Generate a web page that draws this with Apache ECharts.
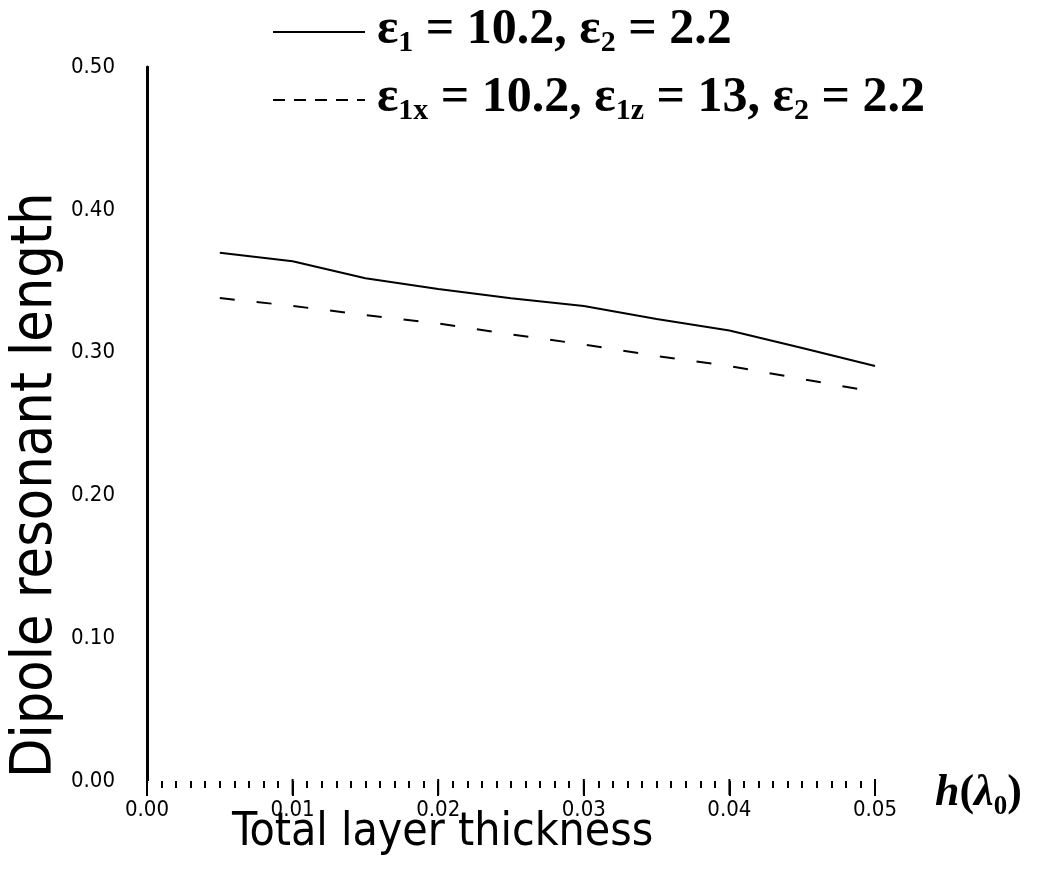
<!DOCTYPE html>
<html>
<head>
<meta charset="utf-8">
<script src="https://cdn.jsdelivr.net/npm/echarts@6/dist/echarts.min.js"></script>
<style>
html,body{margin:0;padding:0;background:#fff;}
#chart{width:1039px;height:873px;}
</style>
</head>
<body>
<div id="chart"></div>
<script>
// ---- data ----
const thickness = [0.005, 0.010, 0.015, 0.020, 0.025, 0.030, 0.035, 0.040, 0.045, 0.050];
const isotropic = [0.370, 0.364, 0.352, 0.3445, 0.338, 0.3326, 0.3235, 0.3155, 0.3032, 0.2906];
const anisotropic = [0.3382, 0.3327, 0.3263, 0.3204, 0.3127, 0.3057, 0.2976, 0.2906, 0.2815, 0.2724];
const majorTicks = [0, 0.01, 0.02, 0.03, 0.04, 0.05];
const seriesNames = ['iso', 'aniso'];
const xTitle = 'Total layer thickness';
const yTitle = 'Dipole resonant length';
const legendText = [
  '{e|ε}{s|1}{e| = 10.2, ε}{s|2}{e| = 2.2}',
  '{e|ε}{s|1x}{e| = 10.2, ε}{s|1z}{e| = 13, ε}{s|2}{e| = 2.2}'
];

const chart = echarts.init(document.getElementById('chart'), null, {renderer: 'canvas'});
const serif = '"Liberation Serif", "DejaVu Serif", serif';
const lightSans = '"DejaVu Sans Condensed", "Liberation Sans Narrow", "DejaVu Sans", sans-serif';

const richLegend = {
  e: {fontFamily: serif, fontSize: 50, fontWeight: 'bold', fill: '#000', lineHeight: 56, verticalAlign: 'middle'},
  s: {fontFamily: serif, fontSize: 30, fontWeight: 'bold', fill: '#000', lineHeight: 56, verticalAlign: 'bottom', padding: [26, 0, 0, 0]}
};

const option = {
  backgroundColor: '#ffffff',
  animation: false,
  grid: {left: 147, right: 164, top: 67, bottom: 92, containLabel: false},
  xAxis: {
    type: 'value',
    min: 0,
    max: 0.05,
    interval: 0.01,
    axisLine: {show: true, lineStyle: {color: '#ffffff', width: 1}},
    axisTick: {show: true, length: 15, lineStyle: {color: '#000', width: 2}},
    minorTick: {show: true, splitNumber: 10, length: 7, lineStyle: {color: '#000', width: 2}},
    splitLine: {show: false},
    minorSplitLine: {show: false},
    axisLabel: {
      color: '#000', fontSize: 22, fontFamily: lightSans, margin: 18,
      formatter: v => v.toFixed(2)
    }
  },
  yAxis: {
    type: 'value',
    min: 0,
    max: 0.5,
    interval: 0.1,
    axisLine: {show: true, lineStyle: {color: '#000', width: 3}},
    axisTick: {show: false},
    splitLine: {show: false},
    axisLabel: {
      color: '#000', fontSize: 22, fontFamily: lightSans, margin: 32,
      formatter: v => v.toFixed(2)
    }
  },
  series: [
    {
      name: seriesNames[0],
      type: 'line',
      symbol: 'none',
      lineStyle: {color: '#000', width: 2, type: 'solid'},
      data: thickness.map((x, i) => [x, isotropic[i]])
    },
    {
      name: seriesNames[1],
      type: 'line',
      symbol: 'none',
      lineStyle: {color: '#000', width: 2, type: [15, 22]},
      data: thickness.map((x, i) => [x, anisotropic[i]])
    }
  ],
  graphic: [
    // legend samples
    {type: 'line', shape: {x1: 273, y1: 32, x2: 365, y2: 32}, style: {stroke: '#000', lineWidth: 2}},
    {type: 'line', shape: {x1: 273, y1: 100, x2: 365, y2: 100}, style: {stroke: '#000', lineWidth: 2, lineDash: [12, 9]}},
    {type: 'text', x: 377, y: 30, style: {text: legendText[0], rich: richLegend, verticalAlign: 'middle'}},
    {type: 'text', x: 377, y: 98, style: {text: legendText[1], rich: richLegend, verticalAlign: 'middle'}},
    // axis titles
    {
      type: 'text',
      left: 232,
      top: 810,
      style: {text: xTitle, fill: '#000', font: '200 46px ' + lightSans}
    },
    {
      type: 'text',
      x: 8,
      y: 778,
      rotation: Math.PI / 2,
      style: {text: yTitle, fill: '#000', font: '200 57px ' + lightSans, verticalAlign: 'top'}
    },
    {
      type: 'text',
      left: 935,
      top: 772,
      style: {
        text: '{i|h}{p|(}{i|λ}{s|0}{p|)}',
        rich: {
          i: {fontFamily: serif, fontSize: 44, fontStyle: 'italic', fontWeight: 'bold', fill: '#000', lineHeight: 54},
          p: {fontFamily: serif, fontSize: 44, fontWeight: 'bold', fill: '#000', lineHeight: 54},
          s: {fontFamily: serif, fontSize: 27, fontWeight: 'bold', fill: '#000', lineHeight: 54, verticalAlign: 'bottom', padding: [20, 0, 0, 0]}
        }
      }
    }
  ]
};
chart.setOption(option);

// long major ticks, placed through the axis scale
const tickLines = majorTicks.map(v => {
  const p = chart.convertToPixel({xAxisIndex: 0, yAxisIndex: 0}, [v, 0]);
  return {type: 'line', shape: {x1: p[0], y1: p[1] - 2, x2: p[0], y2: p[1] + 14}, style: {stroke: '#000', lineWidth: 2}, z: 10};
});
chart.setOption({graphic: option.graphic.concat(tickLines)});
</script>
</body>
</html>
